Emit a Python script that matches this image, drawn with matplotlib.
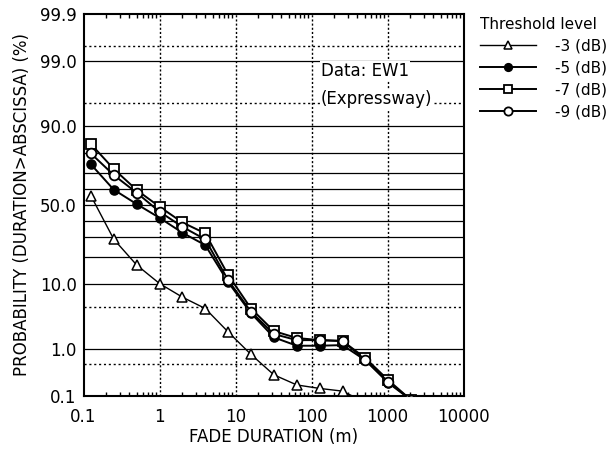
import math
from statistics import NormalDist

import numpy as np
import matplotlib
matplotlib.use("Agg")
import matplotlib.pyplot as plt
from matplotlib.ticker import FixedLocator, NullFormatter, LogLocator

plt.rcParams['font.family'] = ['DejaVu Sans']

# fade duration (m)
duration = [0.125, 0.25, 0.5, 1, 2, 4, 8, 16, 32, 64, 128, 256, 512, 1024, 2048]

# probability (duration > abscissa) in %
p_3db = [56.0, 29.0, 16.6, 10.2, 6.8, 4.7, 2.0, 0.78, 0.30, 0.18, 0.15, 0.13, 0.07]
p_5db = [74.5, 59.8, 50.6, 41.8, 32.7, 25.8, 10.6, 4.0, 1.61, 1.14, 1.14, 1.17, 0.60, 0.20, 0.08]
p_7db = [83.8, 72.0, 59.6, 48.9, 38.9, 32.3, 12.9, 4.7, 2.07, 1.57, 1.44, 1.39, 0.66, 0.23, 0.08]
p_9db = [79.8, 68.6, 57.9, 45.7, 36.2, 28.9, 11.2, 4.2, 1.84, 1.44, 1.44, 1.39, 0.61, 0.21, 0.08]

y_ticks = [0.1, 1.0, 10.0, 50.0, 90.0, 99.0, 99.9]
y_ticklabels = ["0.1", "1.0", "10.0", "50.0", "90.0", "99.0", "99.9"]
solid_levels = [1, 10, 20, 30, 40, 50, 60, 70, 80, 90, 99]
dotted_levels = [0.5, 5, 95, 99.5]
x_ticks = [0.1, 1, 10, 100, 1000, 10000]
x_ticklabels = ["0.1", "1", "10", "100", "1000", "10000"]

_nd = NormalDist()


def _ppf(p):
    if p != p:
        return float("nan")
    p = min(max(p / 100.0, 1e-7), 1 - 1e-7)
    return _nd.inv_cdf(p)


def _cdf(z):
    if z != z:
        return float("nan")
    return 50.0 * (1.0 + math.erf(z / math.sqrt(2.0)))


def prob_forward(p):
    return np.vectorize(_ppf, otypes=[float])(np.asarray(p, dtype=float))


def prob_inverse(z):
    return np.vectorize(_cdf, otypes=[float])(np.asarray(z, dtype=float))


fig = plt.figure(figsize=(6.14, 4.51), dpi=100)
ax = fig.add_axes([83.5 / 614, 55 / 451, 380 / 614, 382 / 451])

ax.set_xscale("log")
ax.set_yscale("function", functions=(prob_forward, prob_inverse))
ax.set_xlim(0.1, 10000)
ax.set_ylim(0.1, 99.9)

# grid
for lv in solid_levels:
    ax.axhline(lv, color="black", lw=0.9, zorder=1)
for lv in dotted_levels:
    ax.axhline(lv, color="black", lw=1.0, ls=(0, (1.5, 2)), zorder=1)
for xv in x_ticks[1:-1]:
    ax.axvline(xv, color="black", lw=1.0, ls=(0, (1.5, 1.5)), zorder=1)

ms = 6.5
ax.plot(duration[:len(p_3db)], p_3db, color="black", lw=1.0, marker="^",
        ms=ms, mfc="white", mec="black", mew=1.1, label="-3 (dB)", zorder=3)
ax.plot(duration, p_5db, color="black", lw=1.4, marker="o",
        ms=ms, mfc="black", mec="black", mew=1.1, label="-5 (dB)", zorder=4)
ax.plot(duration, p_7db, color="black", lw=1.4, marker="s",
        ms=ms, mfc="white", mec="black", mew=1.3, label="-7 (dB)", zorder=5)
ax.plot(duration, p_9db, color="black", lw=1.4, marker="o",
        ms=ms + 0.5, mfc="white", mec="black", mew=1.3, label="-9 (dB)", zorder=6)

ax.yaxis.set_major_locator(FixedLocator(y_ticks))
ax.set_yticklabels(y_ticklabels)
ax.yaxis.set_minor_locator(FixedLocator([]))
ax.xaxis.set_major_locator(FixedLocator(x_ticks))
ax.set_xticklabels(x_ticklabels)
ax.xaxis.set_minor_locator(LogLocator(base=10, subs=np.arange(2, 10)))
ax.xaxis.set_minor_formatter(NullFormatter())

ax.tick_params(axis="y", which="both", length=0, pad=5, labelsize=12)
ax.tick_params(axis="x", which="major", length=0, pad=9, labelsize=12)
ax.tick_params(axis="x", which="minor", direction="in", length=3,
               width=1.0, top=True, bottom=True)

for s in ax.spines.values():
    s.set_linewidth(1.5)

ax.set_xlabel("FADE DURATION (m)", fontsize=12, labelpad=1)
ax.set_ylabel("PROBABILITY (DURATION>ABSCISSA) (%)", fontsize=12, labelpad=6)

ax.text(134, 98.5, "Data: EW1", fontsize=12, ha="left", va="center",
        zorder=7, bbox=dict(facecolor="white", edgecolor="none", pad=0.5))
ax.text(132, 95.7, "(Expressway)", fontsize=12, ha="left", va="center",
        zorder=7, bbox=dict(facecolor="white", edgecolor="none", pad=0.5))

leg = ax.legend(loc="upper left", bbox_to_anchor=(469 / 614, 1 - 6 / 451),
                bbox_transform=fig.transFigure, frameon=False,
                title="Threshold level", title_fontsize=11, fontsize=11,
                handlelength=3.7, handletextpad=1.2, labelspacing=0.45,
                borderpad=0.2, markerscale=0.85, alignment="left")

fig.savefig("out.png", dpi=100)
